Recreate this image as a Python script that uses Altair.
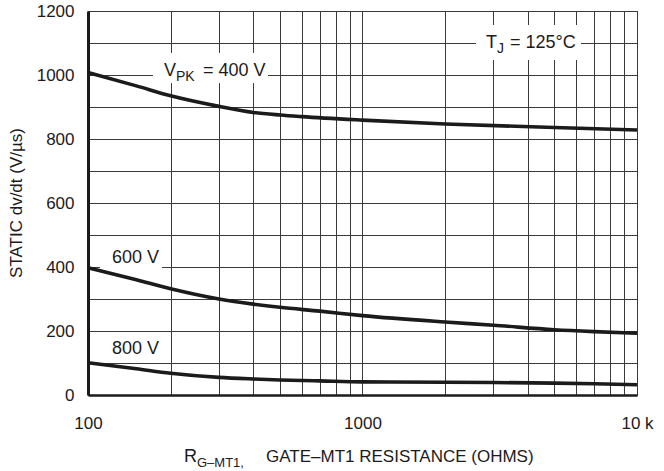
import altair as alt
import pandas as pd

# ---- data ----
r_400 = [100, 150, 200, 300, 400, 500, 600, 1000, 2000, 5000, 10000]
dvdt_400 = [1008, 966, 935, 902, 883, 875, 870, 859, 847, 836, 828]

r_600 = [100, 150, 200, 300, 400, 500, 700, 1000, 2000, 3000, 5000, 7000, 10000]
dvdt_600 = [398, 360, 332, 300, 284, 274, 262, 248, 228, 218, 204, 198, 193]

r_800 = [100, 150, 200, 300, 400, 500, 700, 1000, 2000, 3000, 5000, 7000, 10000]
dvdt_800 = [101, 82, 68, 55, 50, 47, 44, 41, 40, 39, 37, 35, 32]

x_grid = [100, 200, 300, 400, 500, 600, 700, 800, 900,
          1000, 2000, 3000, 4000, 5000, 6000, 7000, 8000, 9000, 10000]
y_grid = list(range(0, 1300, 100))

rows = []
for name, xs, ys in [("400 V", r_400, dvdt_400), ("600 V", r_600, dvdt_600), ("800 V", r_800, dvdt_800)]:
    for xv, yv in zip(xs, ys):
        rows.append({"series": name, "r": xv, "dvdt": yv})
df = pd.DataFrame(rows)

FONT = "Liberation Sans, Arial, sans-serif"
INK = "#1c1a1b"
GRID = "#3a3a3a"
W, H = 549, 384

x_enc = alt.X(
    "r:Q",
    scale=alt.Scale(type="log", domain=[100, 10000], nice=False),
    axis=alt.Axis(
        values=x_grid,
        labelExpr="datum.value == 100 ? '100' : datum.value == 1000 ? '1000' : datum.value == 10000 ? '10 k' : ''",
        ticks=False, title=None, grid=True, gridColor=GRID, gridWidth=1, gridOpacity=1,
        domainColor=INK, domainWidth=2.5,
        labelFont=FONT, labelFontSize=17, labelColor=INK, labelPadding=20,
        labelFlush=False, labelOverlap=False,
    ),
)
y_enc = alt.Y(
    "dvdt:Q",
    scale=alt.Scale(domain=[0, 1200], nice=False),
    axis=alt.Axis(
        values=y_grid,
        labelExpr="datum.value % 200 === 0 ? datum.label : ''",
        format="d",
        ticks=False, title=None, grid=True, gridColor=GRID, gridWidth=1, gridOpacity=1,
        domainColor=INK, domainWidth=3,
        labelFont=FONT, labelFontSize=17, labelColor=INK, labelPadding=14,
        labelOverlap=False,
    ),
)

base = alt.Chart(df)

curves = base.mark_line(interpolate="monotone", strokeWidth=3.6, color=INK).encode(
    x=x_enc, y=y_enc, detail="series:N"
)

blank = alt.Data(values=[{}])


def box(x1, x2, y1, y2):
    return alt.Chart(blank).mark_rect(color="white").encode(
        x=alt.value(x1), x2=alt.value(x2), y=alt.value(y1), y2=alt.value(y2)
    )


def txt(s, x, y, size, angle=0, align="left"):
    props = dict(text=s, font=FONT, fontSize=size, color=INK, align=align, baseline="alphabetic")
    if angle:
        props["angle"] = angle
    return alt.Chart(blank).mark_text(**props).encode(x=alt.value(x), y=alt.value(y))


boxes = [
    box(65, 180, 42, 72),     # V_PK label
    box(388, 493, 14, 49),    # T_J label
    box(12, 74, 234, 262),    # 600 V label
]

texts = [
    txt("V", 76, 65, 18),
    txt("PK", 88, 70, 14),
    txt("= 400 V", 115, 65, 18),
    txt("T", 398, 37, 18),
    txt("J", 409, 42, 14),
    txt("= 125°C", 422, 37, 18),
    txt("600 V", 24, 252, 18),
    txt("800 V", 24, 343, 18),
    # y-axis title
    txt("STATIC dv/dt (V/µs)", -66, 192, 17, angle=270, align="center"),
    # x-axis title with subscript
    txt("R", 96, 451, 18),
    txt("G–MT1,", 109, 456, 13),
    txt("GATE–MT1 RESISTANCE (OHMS)", 178, 451, 17),
]

chart = alt.layer(*boxes, curves, *texts).properties(
    width=W, height=H,
    autosize=alt.AutoSizeParams(type="none"),
    padding={"left": 88, "top": 11, "right": 27, "bottom": 76},
    background="white",
).configure_view(stroke=GRID, strokeWidth=1)

chart.save("out.html", embed_options={"renderer": "svg", "actions": False})
